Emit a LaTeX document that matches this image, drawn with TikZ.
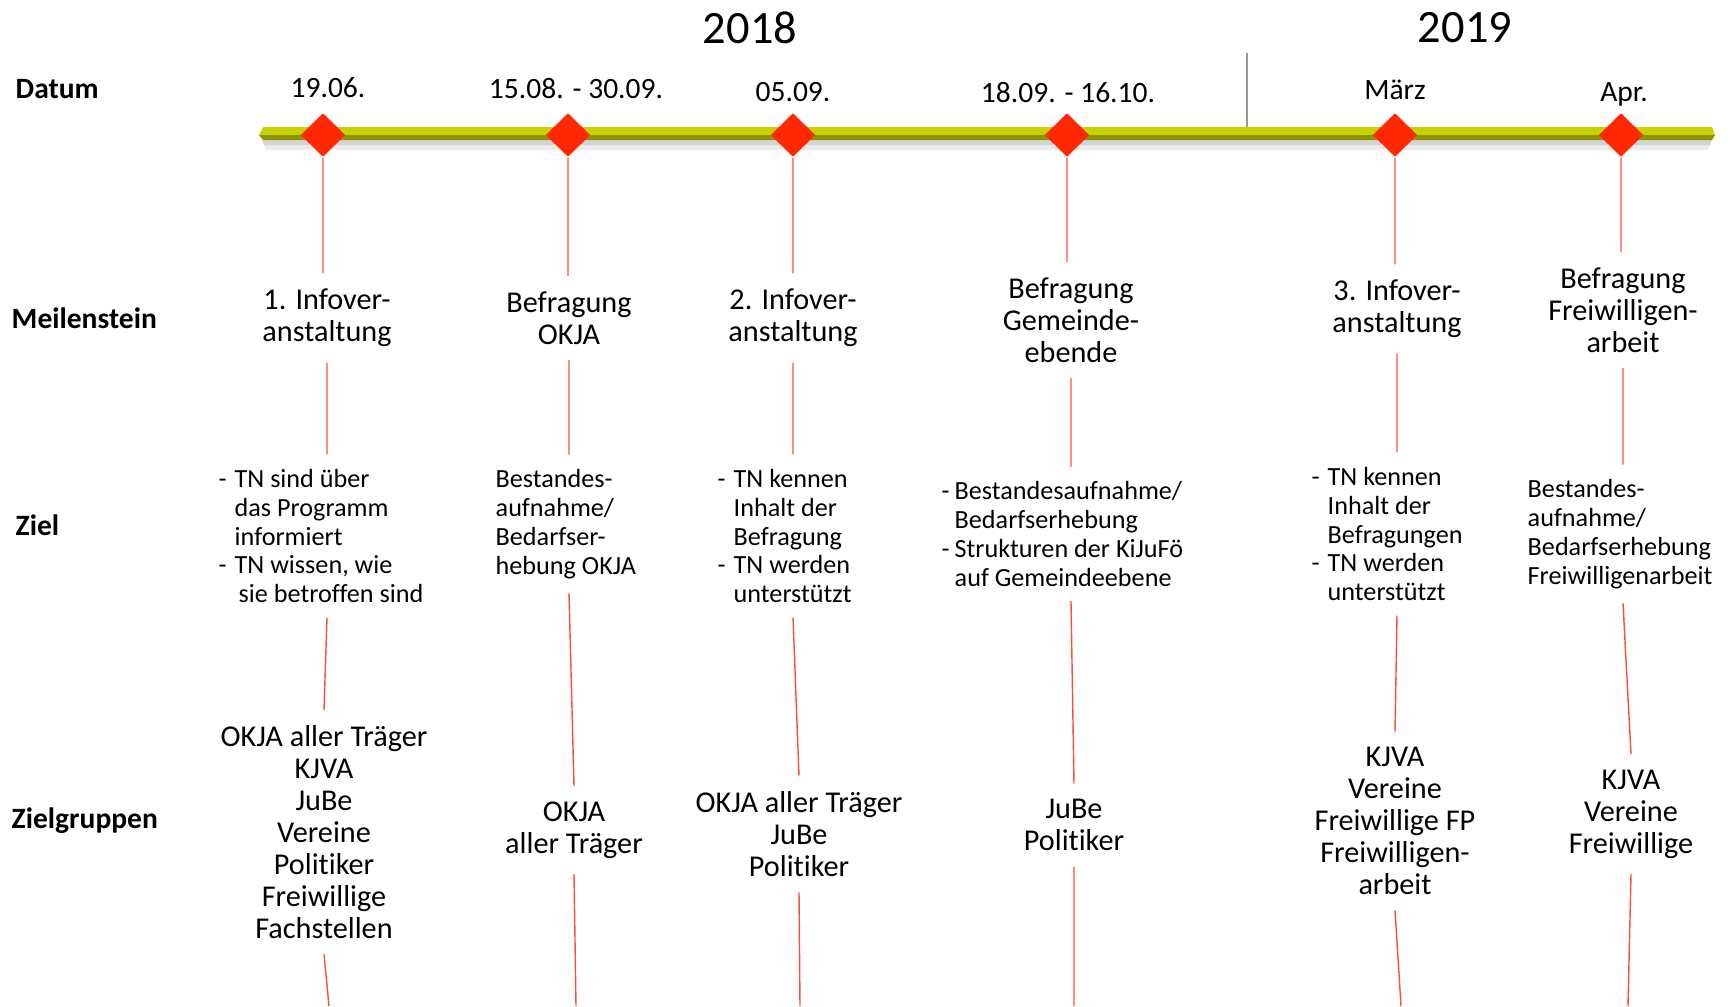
\documentclass[tikz,border=0pt]{standalone}
\usepackage{fontspec}
\setmainfont{Carlito}[Ligatures=NoCommon]
\usetikzlibrary{shapes.geometric}

\definecolor{msred}{RGB}{255,40,0}
\definecolor{linered}{RGB}{250,80,60}
\definecolor{bartop}{RGB}{200,210,0}
\definecolor{barside}{RGB}{140,148,0}

\tikzset{
  milestone/.style={diamond, fill=msred, inner sep=0pt, minimum width=4.5mm, minimum height=4.4mm},
  datum/.style={font=\fontsize{8.4}{9.1}\selectfont},
  year/.style={font=\fontsize{13.2}{15}\selectfont},
  rowlabel/.style={anchor=west, inner sep=0pt, font=\fontsize{8.4}{10}\selectfont\bfseries},
  stein/.style={align=center, inner xsep=0pt, inner ysep=1.5mm, font=\fontsize{8.6}{9.1}\selectfont},
  ziel/.style={align=left, anchor=west, inner xsep=0pt, inner ysep=1.4mm, font=\fontsize{7.45}{8.2}\selectfont},
  gruppe/.style={stein},
  redline/.style={linered, line width=0.4pt}
}
\newcommand{\zdash}[1][1.6mm]{\makebox[#1][l]{-}}
\newcommand{\zskip}[1][1.6mm]{\hspace*{#1}}

\begin{document}
\begin{tikzpicture}[x=0.1mm, y=-0.1mm]
  \useasboundingbox (0,0) rectangle (1730,1006);
  % years
  \node[year] (y18) at (750,28) {2018};
  \node[year] (y19) at (1465,28) {2019};
  \draw[gray!80, line width=0.7pt] (1247,53) -- (1247,128);
  % time bar
  \fill[black, opacity=0.08] (262,140) -- (1712,140) -- (1708,150) -- (266,150) -- cycle;
  \fill[black, opacity=0.10] (262,140) -- (1712,140) -- (1710,145) -- (264,145) -- cycle;
  \fill[bartop] (263,127) -- (1712,127) -- (1715,135) -- (259,135) -- cycle;
  \fill[barside] (259,135) -- (1715,135) -- (1712,140) -- (263,140) -- cycle;
  % row labels
  \node[rowlabel] (lDatum) at (15,89) {Datum};
  \node[rowlabel] (lStein) at (11,318) {Meilenstein};
  \node[rowlabel] (lZiel) at (15,525) {Ziel};
  \node[rowlabel] (lGruppe) at (11,821) {Zielgruppen};
  % milestones
  \foreach \i/\x in {1/323, 2/568, 3/793, 4/1067, 5/1395, 6/1621}
    \node[milestone] (d\i) at (\x,135) {};
  % dates
  \node[datum] (t1) at (328,88) {19.06.};
  \node[datum] (t2) at (576,89) {15.08. - 30.09.};
  \node[datum] (t3) at (793,92) {05.09.};
  \node[datum] (t4) at (1068,93) {18.09. - 16.10.};
  \node[datum] (t5) at (1395,90) {März};
  \node[datum] (t6) at (1624,94) {Apr.};
  % Meilenstein
  \node[stein] (m1) at (327,318) {1. Infover-\\anstaltung};
  \node[stein] (m2) at (569,318) {Befragung\\OKJA};
  \node[stein] (m3) at (793,318) {2. Infover-\\anstaltung};
  \node[stein] (m4) at (1071,320) {Befragung\\Gemeinde-\\ebende};
  \node[stein] (m5) at (1397,309) {3. Infover-\\anstaltung};
  \node[stein] (m6) at (1623,310) {Befragung\\Freiwilligen-\\arbeit};
  % Ziel
  \node[ziel] (z1) at (218,536) {\zdash TN sind über\\\zskip das Programm\\\zskip informiert\\\zdash TN wissen, wie\\\zskip[2mm]sie betroffen sind};
  \node[ziel] (z2) at (495,524) {Bestandes-\\aufnahme/\\Bedarfser-\\hebung OKJA};
  \node[ziel] (z3) at (717,536) {\zdash TN kennen\\\zskip Inhalt der\\\zskip Befragung\\\zdash TN werden\\\zskip unterstützt};
  \node[ziel] (z4) at (941,534) {\zdash[1.3mm]Bestandesaufnahme/\\\zskip[1.3mm]Bedarfserhebung\\\zdash[1.3mm]Strukturen der KiJuFö\\\zskip[1.3mm]auf Gemeindeebene};
  \node[ziel] (z5) at (1311,534) {\zdash TN kennen\\\zskip Inhalt der\\\zskip Befragungen\\\zdash TN werden\\\zskip unterstützt};
  \node[ziel] (z6) at (1527,534) {Bestandes-\\aufnahme/\\Bedarfserhebung\\Freiwilligenarbeit};
  % Zielgruppen
  \node[gruppe] (g1) at (324,832) {OKJA aller Träger\\KJVA\\JuBe\\Vereine\\Politiker\\Freiwillige\\Fachstellen};
  \node[gruppe] (g2) at (574,830) {OKJA\\aller Träger};
  \node[gruppe] (g3) at (799,834) {OKJA aller Träger\\JuBe\\Politiker};
  \node[gruppe] (g4) at (1074,825) {JuBe\\Politiker};
  \node[gruppe] (g5) at (1395,821) {KJVA\\Vereine\\Freiwillige FP\\Freiwilligen-\\arbeit};
  \node[gruppe] (g6) at (1631,814) {KJVA\\Vereine\\Freiwillige};
  % bottom ends
  \foreach \i/\x in {1/329, 2/576, 3/800, 4/1074, 5/1401, 6/1628}
    \coordinate (e\i) at (\x,1006);
  % connectors
  \foreach \i in {1,...,6}
    \draw[redline] (d\i.south) -- (d\i.south |- m\i.north)
      (m\i.south) -- (m\i.south |- z\i.north)
      (m\i.south |- z\i.south) -- (g\i.north)
      (g\i.south) -- (e\i);
\end{tikzpicture}
\end{document}
